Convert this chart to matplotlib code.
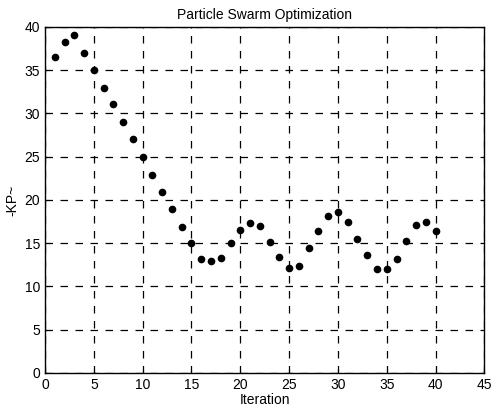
import matplotlib
matplotlib.use("Agg")
import matplotlib.pyplot as plt

# data
iteration = list(range(1, 41))
kp = [36.5, 38.2, 39.0, 37.0, 35.0, 32.9, 31.1, 29.0, 27.0, 25.0,
      22.9, 20.9, 18.9, 16.9, 15.0, 13.2, 12.9, 13.3, 15.0, 16.5,
      17.3, 17.0, 15.1, 13.4, 12.1, 12.4, 14.4, 16.4, 18.1, 18.6,
      17.5, 15.5, 13.6, 12.0, 12.0, 13.2, 15.2, 17.1, 17.5, 16.4]

plt.rcParams["font.family"] = ["Liberation Sans", "DejaVu Sans"]

fig = plt.figure(figsize=(4.92, 4.13), dpi=100)
ax = fig.add_axes([0.0915, 0.097, 0.893, 0.838])

ax.plot(iteration, kp, "o", color="black", markersize=4.5, zorder=3)

ax.set_xlim(0, 45)
ax.set_ylim(0, 40)
ax.set_xticks(range(0, 46, 5))
ax.set_yticks(range(0, 41, 5))
ax.grid(True, color="black", linestyle=(0, (6, 6)), linewidth=0.9)
ax.tick_params(direction="in", length=3, labelsize=10, width=0.8)
for s in ax.spines.values():
    s.set_linewidth(1.0)

ax.set_title("Particle Swarm Optimization", fontsize=10, pad=6)
ax.set_xlabel("Iteration", fontsize=10, labelpad=1)
ax.set_ylabel("-KP~", fontsize=10, labelpad=4)

fig.savefig("out.png", dpi=100)
